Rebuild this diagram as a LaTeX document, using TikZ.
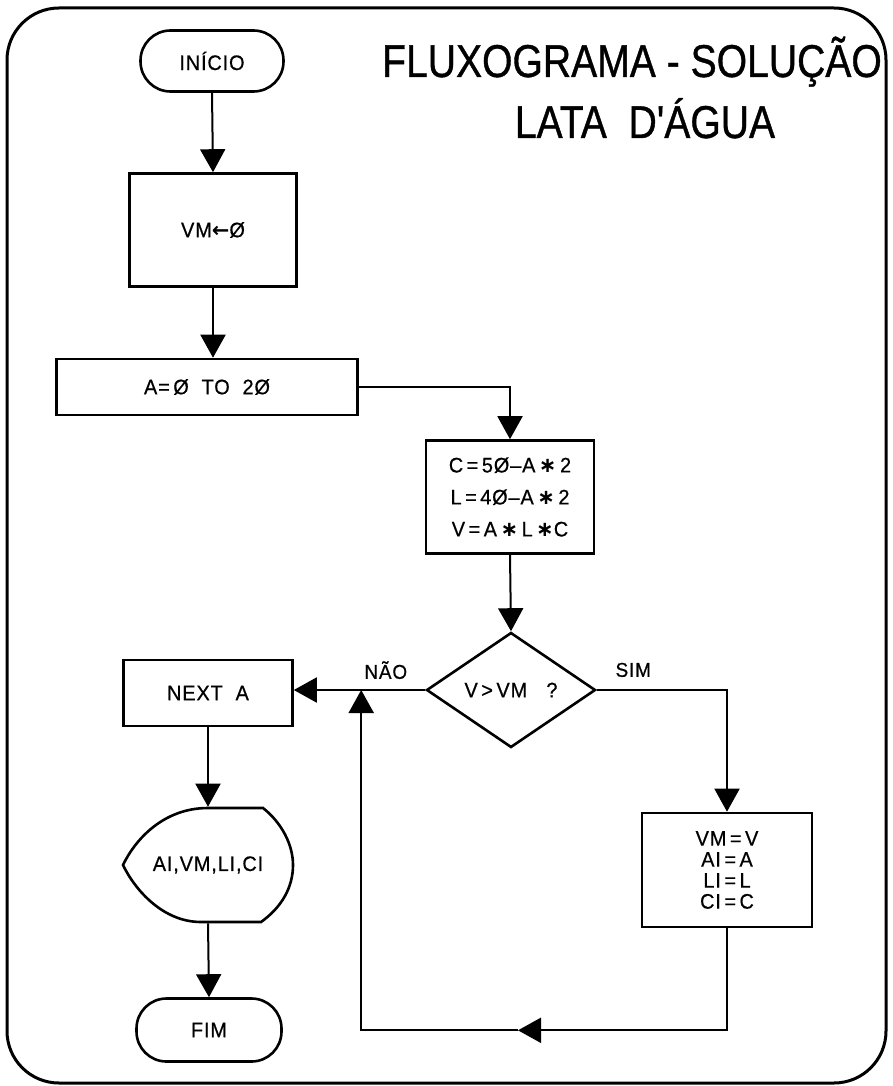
\documentclass[tikz,border=0pt]{standalone}
\usepackage{fontspec}
\setmainfont{Liberation Sans}[FakeStretch=0.95, FakeBold=0.6, LetterSpace=4]
\newfontfamily\titlefont{Liberation Sans}[FakeStretch=0.85, FakeBold=0.8]
\newfontfamily\symfont{DejaVu Sans}
\newcommand{\mul}{{\symfont\bfseries ∗}}
\usetikzlibrary{arrows.meta,positioning,shapes.geometric,calc}
\tikzset{
  procbox/.style={draw, line width=2.6pt, align=center, inner sep=0pt,
    font=\fontsize{21}{32}\selectfont},
  termbox/.style={procbox, rounded corners=30pt, minimum width=143pt, minimum height=61pt},
  testbox/.style={procbox, diamond, aspect=1.47, minimum width=169pt, minimum height=115pt},
  flowarrow/.style={-{Triangle[length=23pt,width=25pt]}, line width=2pt},
  flowlabel/.style={font=\fontsize{20}{24}\selectfont, inner sep=6pt},
  titletext/.style={font=\titlefont\fontsize{46}{50}\selectfont, inner sep=0pt}
}

\begin{document}
\begin{tikzpicture}[x=1pt, y=-1pt]
    \useasboundingbox (0,0) rectangle (892,1086);
    \draw[line width=3pt, rounded corners=52pt] (7,8) rectangle (886,1083);
    % title
    \node[titletext, anchor=base] (title) at (632,77) {FLUXOGRAMA - SOLUÇÃO};
    \node[titletext, anchor=base] (subtitle) at (645,138) {LATA\ \ D'ÁGUA};
    % nodes
    \node[termbox] (inicio) at (212,61) {INÍCIO};
    \node[procbox, minimum width=167pt, minimum height=113pt] (init) at (213,230) {VM{\symfont\bfseries ←}Ø};
    \node[procbox, minimum width=301pt, minimum height=56pt] (loop) at (207,387) {A=\,Ø\ \ TO\ \ 2Ø};
    \node[procbox, minimum width=168pt, minimum height=113pt] (calc) at (510,497)
      {C\,=\,5Ø--A\,\mul\,2\\L\,=\,4Ø--A\,\mul\,2\\V\,=\,A\,\mul\,L\,\mul C};
    \node[testbox] (test) at (511,690) {V\,>\,VM\ \ \ ?};
    \node[procbox, minimum width=169pt, minimum height=66pt] (next) at (208,693) {NEXT\ \ A};
    \node[procbox, minimum width=170pt, minimum height=114pt, font=\fontsize{21}{21}\selectfont] (keep) at (727,870)
      {VM\,=\,V\\AI\,=\,A\\LI\,=\,L\\CI\,=\,C};
    \node[procbox, draw=none, minimum width=170pt, minimum height=114pt] (show) at (208,865) {AI,VM,LI,CI};
    \node[termbox, minimum width=145pt, minimum height=63pt] (fim) at (209,1030) {FIM};
    \draw[line width=2.6pt, shift={(show.center)}] (0,-57) -- (55,-57)
      .. controls (74,-42) and (85,-20) .. (85,0)
      .. controls (85,22) and (74,42) .. (53,57) -- (-7,57)
      .. controls (-45,57) and (-73,25) .. (-85,0)
      .. controls (-73,-25) and (-45,-57) .. (0,-57) -- cycle;
    % connectors
    \draw[flowarrow] (inicio.south) -- (init.north);
    \draw[flowarrow] (init.south) -- (init.south |- loop.north);
    \draw[flowarrow] (loop.east) -| (calc.north);
    \draw[flowarrow] (calc.south) -- (test.north);
    \draw[flowarrow] (test.west) -- (test.west -| next.east) node[flowlabel, pos=0.3, above, yshift=4pt] {NÃO};
    \draw[flowarrow] (test.east) -| (keep.north) node[flowlabel, pos=0.14, above, yshift=6pt] {SIM};
    \draw[flowarrow] (next.south) -- (next.south |- show.north);
    \draw[flowarrow] (show.south) -- (fim.north);
    % return to the loop
    \coordinate (join) at ($(test.west)+(-64,0)$);
    \coordinate (midtip) at ($(keep.south)+(-209,102)$);
    \coordinate (turn) at (midtip -| join);
    \draw[flowarrow] (keep.south) |- (midtip);
    \draw[flowarrow] (midtip) -- (turn) -- (join);
\end{tikzpicture}
\end{document}
